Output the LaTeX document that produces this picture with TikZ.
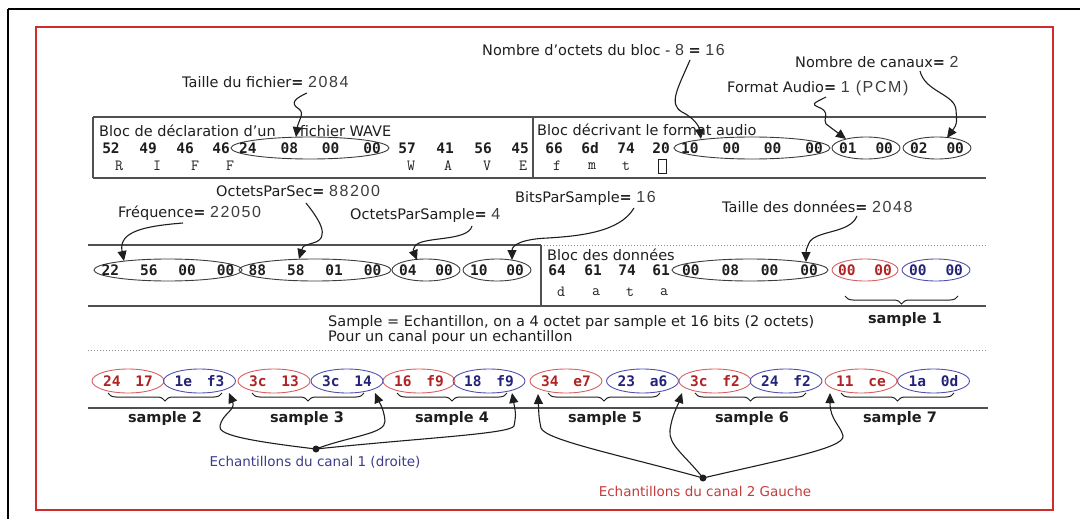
\documentclass[tikz,border=0pt]{standalone}
\usepackage{fontspec}
\setmainfont{DejaVu Sans}
\newfontfamily\numfont{Liberation Sans}[LetterSpace=10]
\newfontfamily\hexfont{DejaVu Sans Mono}
\usetikzlibrary{shapes.geometric,arrows.meta,decorations.pathreplacing}
\definecolor{redb}{RGB}{205,45,45}
\definecolor{ellred}{RGB}{215,95,95}
\definecolor{txtred}{RGB}{175,35,35}
\definecolor{ellblue}{RGB}{80,80,175}
\definecolor{txtblue}{RGB}{35,35,120}
\definecolor{cablue}{RGB}{60,60,140}
\definecolor{cared}{RGB}{195,60,60}
\definecolor{linegray}{RGB}{80,80,80}
\definecolor{ellgray}{RGB}{60,60,60}
\definecolor{ink}{RGB}{30,30,30}
\definecolor{numgray}{RGB}{60,60,60}
\newcommand\nb[1]{{\numfont\fontsize{16}{16}\selectfont\color{numgray}#1}}
\newcommand\hq[5]{\makebox[0pt]{#2\hspace{#1}#3\hspace{#1}#4\hspace{#1}#5}}
\newcommand\hd[3]{\makebox[0pt]{#2\hspace{#1}#3}}
\begin{document}
\begin{tikzpicture}[x=1pt,y=-1pt,
 ann/.style={font=\fontsize{14.5}{16}\selectfont, inner sep=0, anchor=west, text=ink},
 body/.style={font=\fontsize{14.5}{16}\selectfont, inner sep=0, anchor=west, text=ink},
 hx/.style={font=\hexfont\bfseries\fontsize{14.5}{16}\selectfont, inner sep=0, text=ink},
 asc/.style={font=\ttfamily\fontsize{15.5}{16}\selectfont, inner sep=0, text=ink},
 ell/.style={ellipse, draw=ellgray, line width=0.9pt, inner sep=0, minimum height=22pt, hx},
 rell/.style={ell, draw=ellred, text=txtred, minimum width=72pt, minimum height=24pt},
 bell/.style={ell, draw=ellblue, text=txtblue, minimum width=72pt, minimum height=24pt},
 arr/.style={draw=ink, line width=1.1pt, -{Triangle[length=10pt,width=9pt]}},
 boxline/.style={draw=linegray, line width=1.4pt},
 divline/.style={draw=linegray, line width=2.6pt},
 dotline/.style={draw=black!45, line width=1pt, dotted},
 brc/.style={decorate, decoration={brace,mirror,amplitude=8pt}, draw=ink, line width=1pt},
 lab/.style={font=\bfseries\fontsize{14.5}{16}\selectfont, inner sep=0, text=ink},
 dot/.style={circle, fill=ink, inner sep=0, minimum size=7pt}
]
\useasboundingbox (0,0) rectangle (1080,519);
% frames
\draw[line width=2.2pt, black] (8,9) -- (1080,9);
\draw[line width=2.2pt, black] (8,9) -- (8,519);
\draw[line width=2.6pt, redb] (36,27) rectangle (1053,510);

% ---------- row 1 ----------
\draw[boxline] (93,117) -- (986,117);
\draw[boxline] (93,178) -- (986,178);
\draw[boxline] (93,117) -- (93,178);
\draw[divline] (533,117) -- (533,178);
\node[ann] (b1t) at (99,131) {Bloc de déclaration d'un\hspace{24pt}fichier WAVE};
\node[ann] (b2t) at (537,130) {Bloc décrivant le format audio};
\foreach \x/\t [count=\i] in {111/52,148/49,185/46,221/46,407/57,445/41,483/56,520/45,554/66,590/6d,626/74,661/20}
  \node[hx] (ha\i) at (\x,148) {\t};
\foreach \x/\t [count=\i] in {119/R,157/I,195/F,230/F,411/W,448/A,487/V,523/E,557/f,592/m,626/t}
  \node[asc] (la\i) at (\x,166) {\t};
\node[draw=ink, line width=0.8pt, minimum width=8pt, minimum height=14pt, inner sep=0] (sq) at (662,166) {};
\node[ell, minimum width=158pt] (e1) at (310,148) {\hq{24pt}{24}{08}{00}{00}};
\node[ell, minimum width=156pt] (e2) at (752,148) {\hq{24pt}{10}{00}{00}{00}};
\node[ell, minimum width=68pt] (e3) at (866,148) {\hd{19pt}{01}{00}};
\node[ell, minimum width=68pt] (e4) at (937,148) {\hd{19pt}{02}{00}};

% labels above row 1
\node[ann] (nob) at (482,50) {Nombre d'octets du bloc - \nb{8} \textbf{=} \nb{16}};
\node[ann] (nca) at (795,62) {Nombre de canaux\textbf{=} \nb{2}};
\node[ann] (fau) at (727,88) {Format Audio\textbf{=} \nb{1 (PCM)}};
\node[ann] (tfi) at (182,82) {Taille du fichier\textbf{=} \nb{2084}};

\coordinate (a1s) at (307,93);  \coordinate (a1e) at (296,137);
\coordinate (a2s) at (690,60);  \coordinate (a2e) at (701,139);
\coordinate (a3s) at (826,97);  \coordinate (a3e) at (846,139);
\coordinate (a4s) at (920,71);  \coordinate (a4e) at (947,138);
\draw[arr] (a1s) .. controls (296,98) and (289,103) .. (299,109) .. controls (305,113) and (298,122) .. (a1e);
\draw[arr] (a2s) .. controls (678,88) and (668,104) .. (682,112) .. controls (694,118) and (699,126) .. (a2e);
\draw[arr] (a3s) .. controls (812,104) .. (818,107) .. controls (832,112) and (822,120) .. (826,124) .. controls (834,130) .. (a3e);
\draw[arr] (a4s) .. controls (925,92) and (955,94) .. (956,110) .. controls (957,124) .. (a4e);

% ---------- row 2 ----------
\draw[boxline] (88,245) -- (541,245);
\draw[dotline] (541,245) -- (986,245);
\draw[boxline] (88,306) -- (986,306);
\draw[divline] (541,245) -- (541,306);
\node[ann] (b3t) at (547,255) {Bloc des données};
\node[ell, minimum width=148pt] (e5) at (168,270) {\hq{21pt}{22}{56}{00}{00}};
\node[ell, minimum width=152pt] (e6) at (315,270) {\hq{21pt}{88}{58}{01}{00}};
\node[ell, minimum width=68pt] (e7) at (426,270) {\hd{19pt}{04}{00}};
\node[ell, minimum width=68pt] (e8) at (497,270) {\hd{19pt}{10}{00}};
\foreach \x/\t [count=\i] in {557/64,593/61,627/74,661/61}
  \node[hx] (hb\i) at (\x,270) {\t};
\foreach \x/\t [count=\i] in {561/d,596/a,630/t,664/a}
  \node[asc] (lb\i) at (\x,292) {\t};
\node[ell, minimum width=156pt] (e9) at (750,270) {\hq{22pt}{00}{08}{00}{00}};
\node[rell, minimum width=66pt, minimum height=22pt] (e10) at (865,270) {\hd{19pt}{00}{00}};
\node[bell, minimum width=68pt, minimum height=22pt] (e11) at (936,270) {\hd{19pt}{00}{00}};

\node[ann] (ops) at (216,191) {OctetsParSec\textbf{=} \nb{88200}};
\node[ann] (frq) at (118,213) {Fréquence\textbf{=} \nb{22050}};
\node[ann] (opa) at (350,215) {OctetsParSample\textbf{=} \nb{4}};
\node[ann] (bps) at (515,198) {BitsParSample\textbf{=} \nb{16}};
\node[ann] (tdd) at (722,207) {Taille des données\textbf{=} \nb{2048}};

\coordinate (b1s) at (183,223); \coordinate (b1e) at (124,261);
\coordinate (b2s) at (306,203); \coordinate (b2e) at (299,259);
\coordinate (b3s) at (472,226); \coordinate (b3e) at (417,260);
\coordinate (b4s) at (634,208); \coordinate (b4e) at (512,260);
\coordinate (b5s) at (857,216); \coordinate (b5e) at (806,262);
\draw[arr] (b1s) .. controls (146,226) and (118,231) .. (b1e);
\draw[arr] (b2s) .. controls (318,218) and (332,238) .. (313,243) .. controls (303,246) .. (b2e);
\draw[arr] (b3s) .. controls (468,242) and (422,236) .. (415,246) .. controls (413,250) .. (b3e);
\draw[arr] (b4s) .. controls (620,232) and (580,236) .. (548,238) .. controls (522,239) and (512,245) .. (b4e);
\draw[arr] (b5s) .. controls (850,234) and (815,230) .. (809,243) .. controls (806,250) .. (b5e);

\draw[brc] (845,296) -- (958,296);
\node[lab] (s1) at (905,319) {sample 1};
\node[body] (st1) at (328,322) {Sample = Echantillon, on a 4 octet par sample et 16 bits (2 octets)};
\node[body] (st2) at (328,337) {Pour un canal pour un echantillon};
\draw[dotline] (88,350) -- (986,350);

% ---------- row 3 ----------
\foreach \x/\a/\b/\s [count=\i] in {128/24/17/rell,199.5/1e/f3/bell,274/3c/13/rell,347/3c/14/bell,419/16/f9/rell,489/18/f9/bell,566/34/e7/rell,642.5/23/a6/bell,715/3c/f2/rell,786/24/f2/bell,861/11/ce/rell,933.5/1a/0d/bell}
  \node[\s] (r\i) at (\x,381) {\hd{15pt}{\a}{\b}};
\draw[boxline] (88,408) -- (988,408);
\foreach \l/\r [count=\i from 2] in {108/222,252/364,397/507,548/660,695/806,841/954}
  \draw[brc] (\l,393) -- (\r,393);
\foreach \x [count=\i from 2] in {165,307,452,605,752,900}
  \node[lab] (s\i) at (\x,418) {sample \i};

\node[dot] (d1) at (316,449) {};
\node[dot] (d2) at (703,478) {};
\node[font=\fontsize{13.5}{15}\selectfont, text=cablue, inner sep=0] (c1) at (315,462) {Echantillons du canal 1 (droite)};
\node[font=\fontsize{13.5}{15}\selectfont, text=cared, inner sep=0] (c2) at (705,491) {Echantillons du canal 2 Gauche};

\coordinate (t1) at (229,393);
\coordinate (t2) at (375,393);
\coordinate (t3) at (512,393);
\coordinate (t4) at (538,394);
\coordinate (t5) at (682,393);
\coordinate (t6) at (830,393);
\draw[arr] (d1.center) .. controls (240,440) and (218,434) .. (220,426) .. controls (222,414) and (236,410) .. (t1);
\draw[arr] (d1.center) .. controls (350,436) and (386,434) .. (385,421) .. controls (384,408) and (378,400) .. (t2);
\draw[arr] (d1.center) .. controls (420,438) and (510,434) .. (514,426) .. controls (516,415) .. (t3);
\draw[arr] (d2.center) .. controls (620,455) and (545,440) .. (541,428) .. controls (539,418) .. (t4);
\draw[arr] (d2.center) .. controls (685,455) and (668,445) .. (670,430) .. controls (672,415) and (678,405) .. (t5);
\draw[arr] (d2.center) .. controls (780,460) and (845,448) .. (843,436) .. controls (841,426) and (830,420) .. (t6);
\end{tikzpicture}
\end{document}
